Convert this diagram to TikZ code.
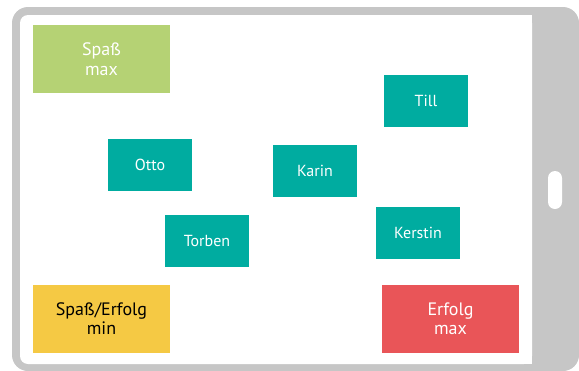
\documentclass[tikz,border=0pt]{standalone}
\usepackage{fontspec}
\setmainfont{PT Sans}
\definecolor{frame}{HTML}{C6C6C6}
\definecolor{teal}{HTML}{00ACA0}
\definecolor{lgreen}{HTML}{B5D274}
\definecolor{myellow}{HTML}{F5C944}
\definecolor{mred}{HTML}{E95558}
\tikzset{
  bigbox/.style={rectangle, inner sep=0pt, minimum width=137pt, minimum height=68pt, align=center, font=\fontsize{18}{19.5}\selectfont},
  namebox/.style={rectangle, fill=teal, text=white, inner sep=0pt, minimum width=84pt, minimum height=52pt, font=\fontsize{16}{18}\selectfont}
}
\begin{document}
\begin{tikzpicture}[x=1pt,y=-1pt]
\useasboundingbox (0,0) rectangle (579,370);
% tablet
\fill[frame, rounded corners=16] (12,7) rectangle (579,371);
\fill[white, rounded corners=8] (20,15) rectangle (532,364);
\fill[white] (500,15) rectangle (532,364);
\fill[white, rounded corners=7] (548,171) rectangle (562,209);
% corner boxes
\node[bigbox, fill=lgreen, text=white] (spass) at (101.5,59) {Spaß\\max};
\node[bigbox, fill=myellow, text=black] (min) at (101.5,318.5) {Spaß/Erfolg\\min};
\node[bigbox, fill=mred, text=white] (erfolg) at (450.5,318.5) {Erfolg\\max};
% names
\node[namebox] (till) at (426,101) {Till};
\node[namebox] (otto) at (150,164.5) {Otto};
\node[namebox] (karin) at (315,170.5) {Karin};
\node[namebox] (torben) at (207,240.5) {Torben};
\node[namebox] (kerstin) at (418,233) {Kerstin};
\end{tikzpicture}
\end{document}
